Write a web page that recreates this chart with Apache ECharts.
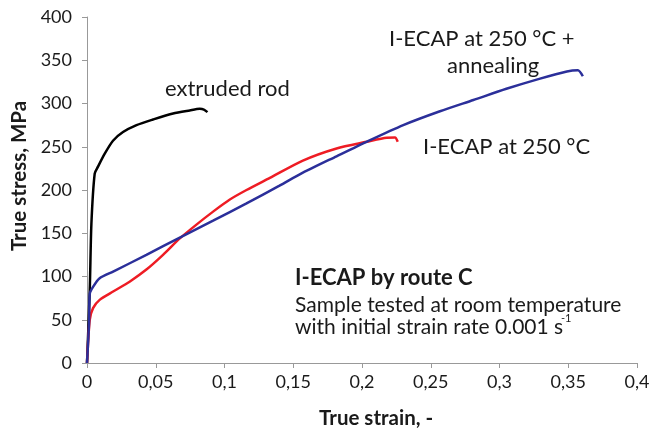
<!DOCTYPE html>
<html>
<head>
<meta charset="utf-8">
<script src="https://cdn.jsdelivr.net/npm/echarts@6/dist/echarts.min.js"></script>
<style>
  html, body { margin: 0; padding: 0; background: #fff; }
  #main { width: 654px; height: 429px; }
</style>
</head>
<body>
<div id="main"></div>
<script>
(function() {
    // extruded rod
    var strainRod = [0, 0.002, 0.0032, 0.0056, 0.008, 0.0129, 0.0189, 0.0262, 0.036, 0.048, 0.0626, 0.0747, 0.082, 0.085, 0.0876];
    var stressRod = [0, 84, 161, 219, 227, 242, 257, 267, 275, 281.5, 288.5, 292, 293.8, 293, 290];
    // I-ECAP at 250 °C
    var strainEcap = [0, 0.002, 0.0044, 0.0092, 0.019, 0.031, 0.0432, 0.0553, 0.0675, 0.0796, 0.0917, 0.1039, 0.116, 0.133, 0.157, 0.1815, 0.2033, 0.218, 0.224, 0.226];
    var stressEcap = [0, 50, 63.5, 73, 82.6, 94, 108, 125, 144, 160, 175, 189, 200, 214, 234, 248, 255.7, 260.5, 260.7, 255.7];
    // I-ECAP at 250 °C + annealing
    var strainAnneal = [0, 0.0015, 0.002, 0.0044, 0.0092, 0.019, 0.0432, 0.0675, 0.0917, 0.116, 0.140, 0.157, 0.1815, 0.2033, 0.230, 0.2567, 0.281, 0.305, 0.3295, 0.349, 0.357, 0.3606];
    var stressAnneal = [0, 46, 80, 88, 98, 105.7, 125, 145, 164.5, 184.6, 205, 220, 239, 255.7, 275, 291, 304, 317, 328.8, 337, 338.4, 331.5];

    var FONT = 'Lato';
    var TXT = '#1a1a1a';

    function pairs(xs, ys) {
        var out = [];
        for (var i = 0; i < xs.length; i++) out.push([xs[i], ys[i]]);
        return out;
    }

    function curve(name, color, xs, ys) {
        return {
            name: name,
            type: 'line',
            showSymbol: false,
            smooth: 0.25,
            lineStyle: { color: color, width: 2.5 },
            data: pairs(xs, ys)
        };
    }

    // text placed by left edge and vertical centre
    function label(txt, x, y, size, bold, rot) {
        return {
            type: 'text',
            x: x,
            y: y,
            rotation: rot || 0,
            style: {
                text: txt,
                fill: TXT,
                font: (bold ? 'bold ' : '') + size + 'px ' + FONT,
                align: rot ? 'center' : 'left',
                verticalAlign: 'middle'
            }
        };
    }

    var chart = echarts.init(document.getElementById('main'));
    chart.setOption({
        animation: false,
        grid: { left: 87, right: 17, top: 17, bottom: 66 },
        xAxis: {
            type: 'value',
            min: 0,
            max: 0.4,
            interval: 0.05,
            axisLine: { lineStyle: { color: '#999', width: 1 } },
            axisTick: { show: true, length: 5, lineStyle: { color: '#999' } },
            splitLine: { show: false },
            axisLabel: {
                fontFamily: FONT, fontSize: 18, color: TXT, margin: 10,
                formatter: function(v) { return String(+v.toFixed(2)).replace('.', ','); }
            }
        },
        yAxis: {
            type: 'value',
            min: 0,
            max: 400,
            interval: 50,
            axisLine: { show: true, lineStyle: { color: '#999', width: 1 } },
            axisTick: { show: true, length: 5, lineStyle: { color: '#999' } },
            splitLine: { show: false },
            axisLabel: { fontFamily: FONT, fontSize: 18, color: TXT, margin: 15 }
        },
        series: [
            curve('extruded rod', '#000000', strainRod, stressRod),
            curve('I-ECAP at 250 °C', '#ee1c24', strainEcap, stressEcap),
            curve('I-ECAP at 250 °C + annealing', '#2b2f9a', strainAnneal, stressAnneal)
        ],
        graphic: [
            label('True strain, -', 319, 418, 20.5, true),
            label('True stress, MPa', 19, 176, 20.5, true, Math.PI / 2),
            label('extruded rod', 165, 89, 22),
            label('I-ECAP at 250 °C +', 389, 39, 22),
            label('annealing', 447, 66, 22),
            label('I-ECAP at 250 °C', 423, 147, 22),
            label('I-ECAP by route C', 295, 278, 22, true),
            label('Sample tested at room temperature', 295, 305, 21),
            label('with initial strain rate 0.001 s', 295, 327, 21),
            label('-1', 561, 318, 11)
        ]
    });
})();
</script>
</body>
</html>
